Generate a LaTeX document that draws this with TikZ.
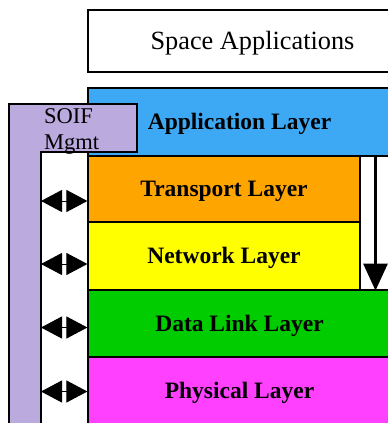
\documentclass[tikz,border=0pt]{standalone}
\usepackage{fontspec}
\setmainfont{Liberation Serif}
\usetikzlibrary{arrows.meta}
\definecolor{applblue}{RGB}{61,169,245}
\definecolor{transorange}{RGB}{255,165,0}
\definecolor{netyellow}{RGB}{255,255,0}
\definecolor{linkgreen}{RGB}{0,204,0}
\definecolor{physmagenta}{RGB}{255,64,255}
\definecolor{mgmtlav}{RGB}{187,170,222}
\begin{document}
\begin{tikzpicture}[x=1pt,y=-1pt,
    layer/.style={draw=black,line width=1.2pt,minimum height=67pt,inner sep=0pt,
      text height=15.6pt,text depth=0pt,font=\fontsize{23.5}{26}\selectfont\bfseries},
    dbl/.style={{Triangle[length=21pt,width=22pt]}-{Triangle[length=21pt,width=22pt]},line width=1pt}]
  \useasboundingbox (0,0) rectangle (388,423);
  \node[draw,line width=1.2pt,minimum width=329pt,minimum height=62pt,inner sep=0pt,
        font=\fontsize{26.3}{28}\selectfont,text height=17pt,text depth=0pt] (space) at (252.5,41) {Space Applications};
  % protocol stack
  \node[layer,fill=applblue,minimum width=303pt,minimum height=68pt] (al) at (239.5,122) {Application Layer};
  \node[layer,fill=transorange,minimum width=272pt,minimum height=66pt] (tl) at (224,189) {Transport Layer};
  \node[layer,fill=netyellow,minimum width=272pt,minimum height=68pt] (nl) at (224,256) {Network Layer};
  \node[draw,fill=white,line width=1.2pt,minimum width=31pt,minimum height=134pt,inner sep=0pt] (down) at (375.5,223) {};
  \node[layer,fill=linkgreen,minimum width=303pt] (dl) at (239.5,323.5) {Data Link Layer};
  \node[layer,fill=physmagenta,minimum width=303pt] (pl) at (239.5,390.5) {Physical Layer};
  % management plane
  \draw[fill=mgmtlav,line width=1.2pt] (9,430) -- (9,104) -- (137,104) -- (137,152) -- (41,152) -- (41,430);
  \coordinate (bar) at (41,152);
  \node[anchor=north west,align=left,inner sep=0pt,font=\fontsize{22.5}{26}\selectfont] (soif) at (44,108) {SOIF\\Mgmt};
  \draw[-{Triangle[length=27pt,width=24pt]},line width=3pt] (down.north) -- (down.south);
  \foreach \n/\dy in {tl/-12,nl/-8,dl/-4,pl/-1} {
    \coordinate (a) at ([yshift=\dy pt]\n.west);
    \draw[dbl] (a -| bar) -- (a);
  }
\end{tikzpicture}
\end{document}
